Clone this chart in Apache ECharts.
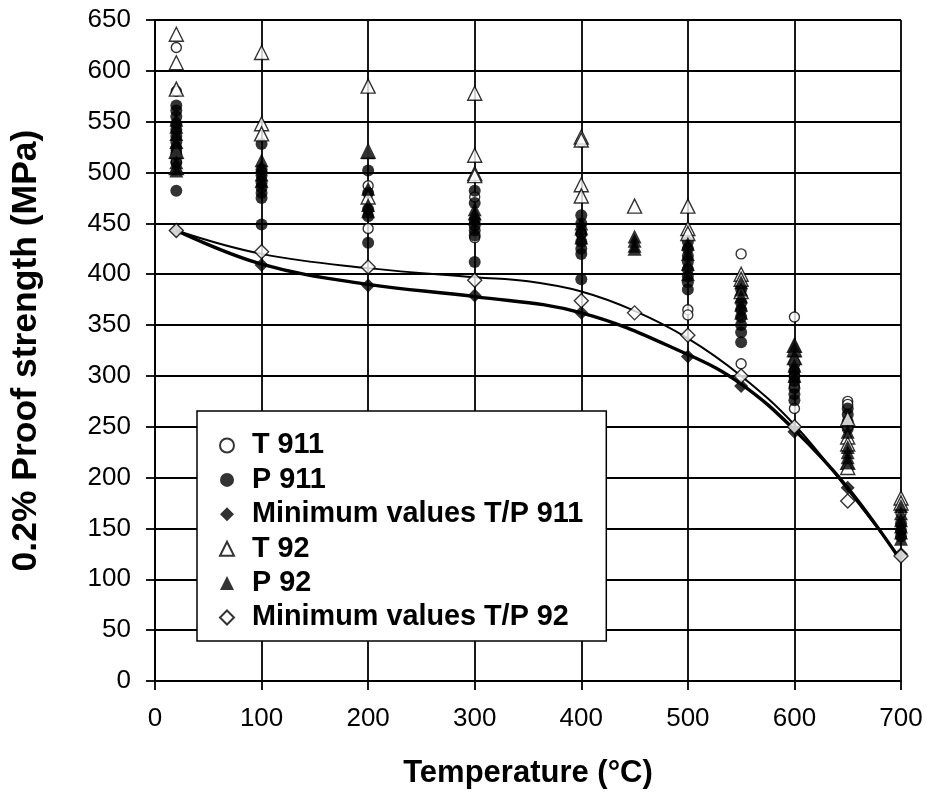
<!DOCTYPE html>
<html>
<head>
<meta charset="utf-8">
<script src="https://cdn.jsdelivr.net/npm/echarts@6/dist/echarts.min.js"></script>
<style>
html,body{margin:0;padding:0;background:#fff;}
#c{width:927px;height:796px;}
</style>
</head>
<body>
<div id="c"></div>
<script>
// [temperature °C, 0.2% proof strength MPa]
var T911 = [[20,623],[20,580],[20,520],[20,510],[100,500],[200,487],[200,445],[300,476],[300,436],[400,530],[400,440],[500,365],[500,360],[550,420],[550,312],[600,358],[600,300],[600,290],[600,268],[650,275],[650,272],[650,250],[700,165]];
var P911 = [[20,566],[20,561],[20,555],[20,548],[20,542],[20,536],[20,530],[20,524],[20,518],[20,510],[20,482],
  [100,528],[100,503],[100,497],[100,490],[100,485],[100,480],[100,475],[100,449],
  [200,502],[200,480],[200,464],[200,457],[200,431],
  [300,482],[300,470],[300,453],[300,448],[300,443],[300,438],[300,412],
  [400,458],[400,450],[400,440],[400,432],[400,425],[400,420],[400,395],
  [500,432],[500,425],[500,418],[500,412],[500,405],[500,398],[500,392],[500,385],
  [550,385],[550,372],[550,365],[550,358],[550,350],[550,343],[550,333],
  [600,312],[600,305],[600,300],[600,295],[600,288],[600,282],[600,276],
  [650,268],[650,262],[650,255],[650,248],
  [700,155],[700,148],[700,142]];
var MIN911 = [[20,443],[100,409],[200,389],[300,379],[400,362],[500,319],[550,290],[600,245],[650,190],[700,125]];
var T92 = [[20,636],[20,608],[20,582],[20,521],[20,505],[100,618],[100,548],[100,538],[200,585],[200,521],[200,476],
  [300,578],[300,517],[300,499],[300,497],[400,535],[400,532],[400,488],[400,477],[450,467],
  [500,467],[500,445],[500,440],[550,400],[550,395],[550,383],[600,330],[600,326],[600,318],
  [650,258],[650,240],[650,233],[650,215],[650,210],[700,180],[700,175]];
var P92 = [[20,552],[20,545],[20,538],[20,530],[20,520],[20,510],[20,505],[20,502],
  [100,512],[100,506],[100,498],[100,492],
  [200,520],[200,484],[200,468],[200,462],
  [300,464],[300,460],[300,455],
  [400,450],[400,445],[400,436],
  [450,437],[450,433],[450,428],[450,425],
  [500,430],[500,420],[500,410],[500,400],
  [550,392],[550,385],[550,378],[550,370],[550,362],
  [600,330],[600,325],[600,318],[600,310],[600,300],
  [650,245],[650,230],[650,225],[650,220],[650,215],
  [700,172],[700,165],[700,158],[700,152],[700,146],[700,140]];
var MIN92 = [[20,443],[100,422],[200,407],[300,394],[400,374],[450,362],[500,340],[550,300],[600,250],[650,177],[700,123]];
var TREND911 = [[20,443],[100,410],[200,390],[300,378],[400,362],[500,321],[550,292],[600,247],[650,190],[700,118]];
var TREND92 = [[20,443],[100,420],[200,406],[300,397],[350,393],[400,383],[450,364],[500,337],[550,300],[600,252],[650,188],[700,120]];

var FONT = "'Liberation Sans', Arial, sans-serif";
var chart = echarts.init(document.getElementById('c'), null, {renderer:'canvas'});
var openStyle = {color:'#fff', borderColor:'#000', borderWidth:1.4};
var fillStyle = {color:'#000', borderColor:'#000', borderWidth:0};
function sc(name, data, symbol, size, style){
  return {name:name, type:'scatter', data:data, symbol:symbol, symbolSize:size, itemStyle:style, z:3, animation:false};
}
chart.setOption({
  animation:false,
  backgroundColor:'#fff',
  grid:{left:155, right:26, top:20, bottom:115, containLabel:false},
  xAxis:{type:'value', min:0, max:700, interval:100,
    name:'Temperature (°C)', nameLocation:'middle', nameGap:77,
    nameTextStyle:{fontFamily:FONT, fontSize:31, fontWeight:'bold', color:'#000'},
    axisLine:{show:true, onZero:false, lineStyle:{color:'#000', width:1.8}},
    axisTick:{show:true, length:9, lineStyle:{color:'#000', width:1.8}},
    axisLabel:{fontFamily:FONT, fontSize:26, color:'#000', margin:25},
    splitLine:{show:true, lineStyle:{color:'#000', width:1.8}}},
  yAxis:{type:'value', min:0, max:650, interval:50,
    name:'0.2% Proof strength (MPa)', nameLocation:'middle', nameGap:111,
    nameTextStyle:{fontFamily:FONT, fontSize:35.5, fontWeight:'bold', color:'#000'},
    axisLine:{show:true, lineStyle:{color:'#000', width:1.8}},
    axisTick:{show:true, length:9, lineStyle:{color:'#000', width:1.8}},
    axisLabel:{fontFamily:FONT, fontSize:26, color:'#000', margin:24},
    splitLine:{show:true, lineStyle:{color:'#000', width:1.8}}},
  legend:{show:true, orient:'vertical', left:197, top:411,
    data:['T 911','P 911','Minimum values T/P 911','T 92','P 92','Minimum values T/P 92'],
    backgroundColor:'#fff', borderColor:'#000', borderWidth:1.5,
    padding:[20,23,9,22], itemGap:5.4, itemWidth:14, itemHeight:14,
    textStyle:{fontFamily:FONT, fontSize:28.8, fontWeight:'bold', color:'#000', lineHeight:28, padding:[0,0,0,13]}},
  series:[
    {name:'trend911', type:'line', data:TREND911, smooth:0.4, symbol:'none', lineStyle:{color:'#000', width:3.4}, z:2, silent:true},
    {name:'trend92', type:'line', data:TREND92, smooth:0.4, symbol:'none', lineStyle:{color:'#000', width:2}, z:2, silent:true},
    sc('T 911', T911, 'circle', 10, openStyle),
    sc('P 911', P911, 'circle', 12, fillStyle),
    sc('Minimum values T/P 911', MIN911, 'diamond', 14, fillStyle),
    sc('T 92', T92, 'triangle', 14, openStyle),
    sc('P 92', P92, 'triangle', 14, fillStyle),
    sc('Minimum values T/P 92', MIN92, 'diamond', 14, openStyle)
  ]
});
</script>
</body>
</html>
